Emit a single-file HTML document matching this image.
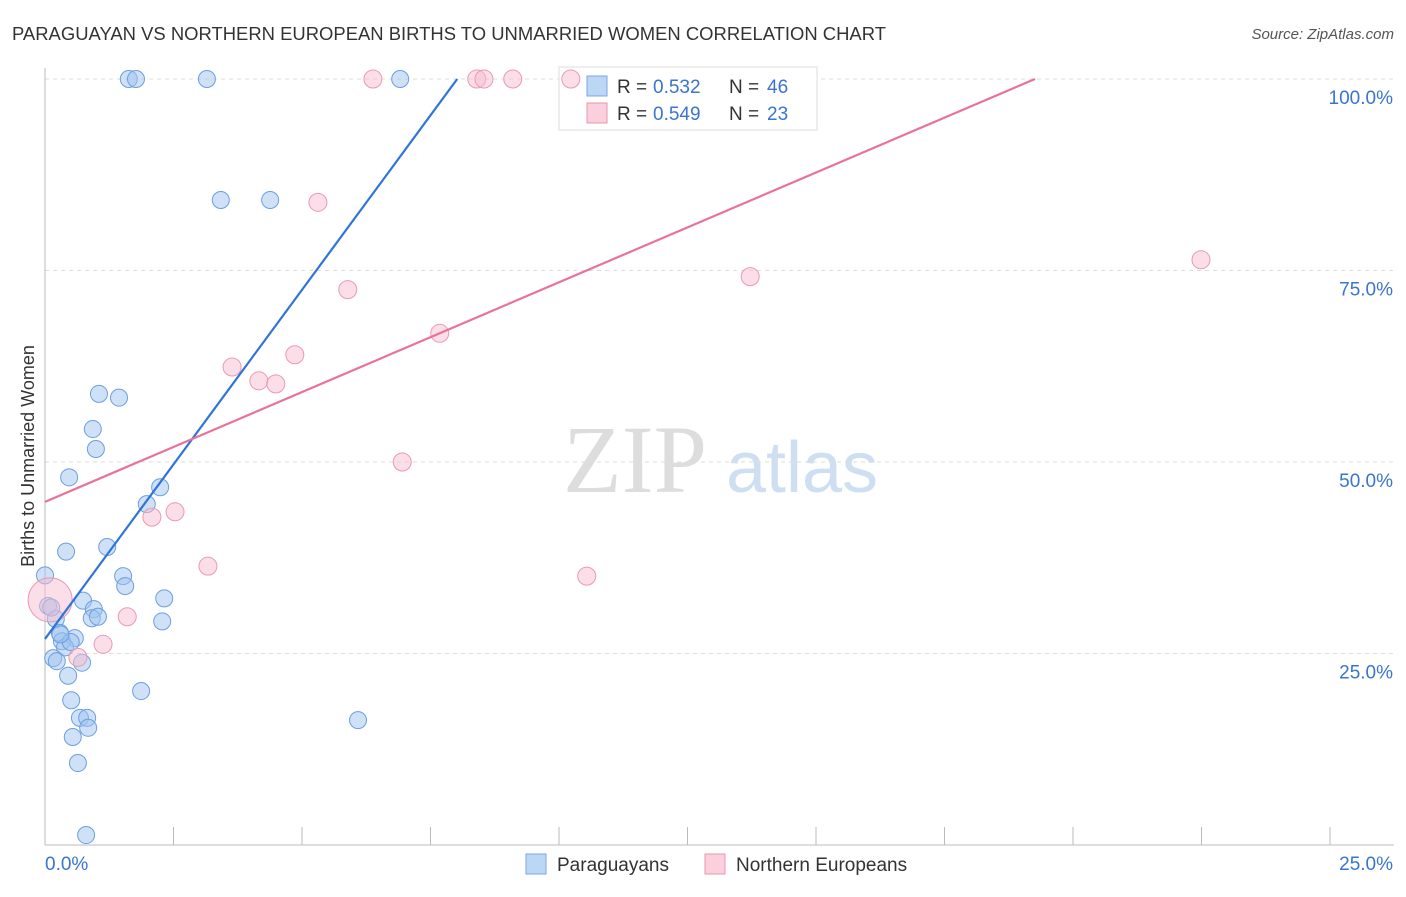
<!DOCTYPE html>
<html><head><meta charset="utf-8"><style>
body{margin:0;background:#fff;font-family:"Liberation Sans",sans-serif}
</style></head><body>
<svg width="1406" height="892" xmlns="http://www.w3.org/2000/svg" id="chart">
<text x="12" y="40" font-size="18" fill="#333" textLength="874" lengthAdjust="spacingAndGlyphs">PARAGUAYAN VS NORTHERN EUROPEAN BIRTHS TO UNMARRIED WOMEN CORRELATION CHART</text>
<text x="1394" y="39" font-size="15" fill="#555" font-style="italic" text-anchor="end">Source: ZipAtlas.com</text>
<text x="34" y="456" font-size="18" fill="#333" text-anchor="middle" transform="rotate(-90 34 456)">Births to Unmarried Women</text>
<g>
<text x="635" y="492" font-size="96" fill="#ddd" font-family="Liberation Serif" text-anchor="middle">ZIP</text>
<text x="802" y="492" font-size="72" fill="#cfdff3" text-anchor="middle">atlas</text>
</g>
<g id="grid"></g><g id="axes"></g>
<g>
<rect x="559" y="67" width="258" height="63" fill="#fff" stroke="#ddd"/>
<rect x="587" y="76" width="20" height="20" fill="#bcd6f5" stroke="#7ba7e0"/>
<text y="93" font-size="19" fill="#333"><tspan x="617">R =</tspan><tspan x="653" fill="#3a74d1">0.532</tspan><tspan x="729">N =</tspan><tspan x="767" fill="#3a74d1">46</tspan></text>
<rect x="587" y="103" width="20" height="20" fill="#fbd0dc" stroke="#e894ae"/>
<text y="120" font-size="19" fill="#333"><tspan x="617">R =</tspan><tspan x="653" fill="#3a74d1">0.549</tspan><tspan x="729">N =</tspan><tspan x="767" fill="#3a74d1">23</tspan></text>
</g>
<g id="pts"></g><g id="lines"></g>
<g>
<rect x="526" y="854" width="20" height="20" fill="#bcd6f5" stroke="#7ba7e0"/>
<text x="557" y="871" font-size="19" fill="#333">Paraguayans</text>
<rect x="705" y="854" width="20" height="20" fill="#fbd0dc" stroke="#e894ae"/>
<text x="736" y="871" font-size="19" fill="#333">Northern Europeans</text>
</g>
</svg>
<script>
const yTicks=[25,50,75,100];
const yTickLabels=["25.0%","50.0%","75.0%","100.0%"];
const xTickCount=10;
const blueX=[1.63,1.77,3.15,6.91,3.42,4.38,1.05,1.44,0.93,0.99,0.47,2.24,1.98,0.41,1.21,1.52,1.56,0,2.32,0.74,0.06,0.95,0.91,1.03,0.21,2.28,0.29,0.58,0.33,0.39,0.16,0.23,0.72,0.45,0.51,1.87,0.68,0.82,0.84,0.54,0.64,0.80,6.09,0.12,0.5,0.3];
const blueY=[100,100,100,100,84.2,84.2,58.9,58.4,54.3,51.7,48.0,46.7,44.5,38.3,38.9,35.1,33.8,35.2,32.2,31.9,31.2,30.8,29.6,29.8,29.5,29.2,27.7,27.0,26.6,25.8,24.4,24.0,23.8,22.1,18.9,20.1,16.6,16.6,15.3,14.1,10.7,1.3,16.3,31.0,26.5,27.5];
const pinkX=[6.38,8.40,8.54,9.10,10.23,5.31,5.89,13.72,22.49,7.68,4.86,3.64,4.16,4.49,6.95,2.08,2.53,3.17,10.54,1.60,1.13,0.64,0.1];
const pinkY=[100,100,100,100,100,83.9,72.5,74.2,76.4,66.8,64.0,62.4,60.6,60.2,50.0,42.8,43.5,36.4,35.1,29.8,26.2,24.5,32.0];
const pinkR=[9,9,9,9,9,9,9,9,9,9,9,9,9,9,9,9,9,9,9,9,9,9,22];
const blueLine=[0,26.9,8.02,100];
const pinkLine=[0,44.8,19.26,100];
const NS="http://www.w3.org/2000/svg";
const X=v=>45+v/25*1285, Y=v=>845-v/100*766;
function mk(t,a,p){const e=document.createElementNS(NS,t);for(const k in a)e.setAttribute(k,a[k]);document.getElementById(p).appendChild(e);return e;}
yTicks.forEach((t,i)=>{
 const g=mk('line',{x1:45,x2:1394,y1:Y(t),y2:Y(t),stroke:'#ddd','stroke-dasharray':'4 4'},'grid');
 
 
 const l=mk('text',{x:1393,y:Y(t)+25,'font-size':19,fill:'#3a74d1','text-anchor':'end'},'axes');l.textContent=yTickLabels[i];
 
 
});
const ax=mk('line',{x1:45,x2:45,y1:68,y2:845,stroke:'#bbb'},'axes');


const bx=mk('line',{x1:45,x2:1394,y1:845,y2:845,stroke:'#bbb'},'axes');


for(let i=1;i<=xTickCount;i++){const t=mk('line',{x1:X(i*2.5),x2:X(i*2.5),y1:827,y2:845,stroke:'#bbb'},'axes');
 
 }
const x0=mk('text',{x:45,y:870,'font-size':19,fill:'#3a74d1'},'axes');x0.textContent='0.0%';


const x1=mk('text',{x:1393,y:870,'font-size':19,fill:'#3a74d1','text-anchor':'end'},'axes');x1.textContent='25.0%';


blueX.forEach((v,i)=>{const c=mk('circle',{cx:X(v),cy:Y(blueY[i]),r:8.5,fill:'rgba(160,196,240,0.5)',stroke:'#6b9fe0','stroke-width':1},'pts');
 
 });
pinkX.forEach((v,i)=>{const c=mk('circle',{cx:X(v),cy:Y(pinkY[i]),r:pinkR[i],fill:'rgba(248,190,208,0.5)',stroke:'#e99ab3','stroke-width':1},'pts');
 
 });
const bl=mk('line',{x1:X(blueLine[0]),y1:Y(blueLine[1]),x2:X(blueLine[2]),y2:Y(blueLine[3]),stroke:'#2f74d8','stroke-width':2.2},'lines');


const pl=mk('line',{x1:X(pinkLine[0]),y1:Y(pinkLine[1]),x2:X(pinkLine[2]),y2:Y(pinkLine[3]),stroke:'#e8739a','stroke-width':2.2},'lines');


</script>
</body></html>
